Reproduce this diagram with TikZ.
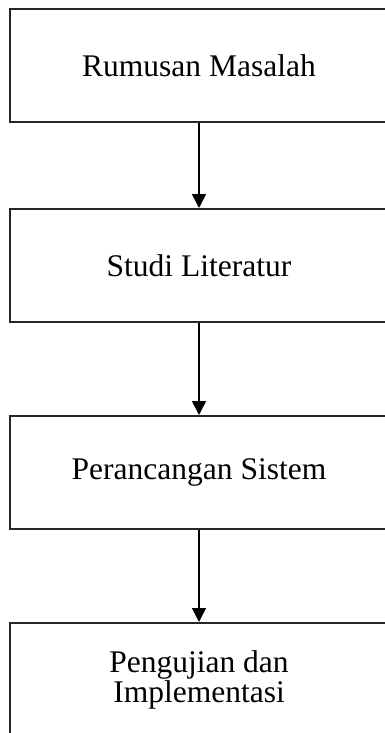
\documentclass[tikz,border=0pt]{standalone}
\usepackage{fontspec}
\setmainfont{Liberation Serif}
\usetikzlibrary{arrows.meta}

\begin{document}
\begin{tikzpicture}[
    x=1pt, y=-1pt,
    stage/.style={rectangle, draw=black!85, line width=2pt, minimum width=378pt,
      minimum height=113pt, inner sep=0pt, align=center, font=\fontsize{31.5}{30}\selectfont},
    flow/.style={draw, line width=1.6pt, -{Triangle[width=14pt, length=14pt]}}
]
  \useasboundingbox (0,0) rectangle (384,733);
  % Stages of the research, top to bottom.
  \node[stage] (rumusan) at (199, 65.5) {Rumusan Masalah};
  \node[stage] (studi) at (199, 265.5) {Studi Literatur};
  \node[stage] (rancang) at (199, 472.5) {Perancangan Sistem};
  \node[stage] (uji) at (199, 679.5) {Pengujian dan\\Implementasi};
  % Arrows between stages.
  \draw[flow] (rumusan) -- (studi);
  \draw[flow] (studi) -- (rancang);
  \draw[flow] (rancang) -- (uji);
\end{tikzpicture}
\end{document}
